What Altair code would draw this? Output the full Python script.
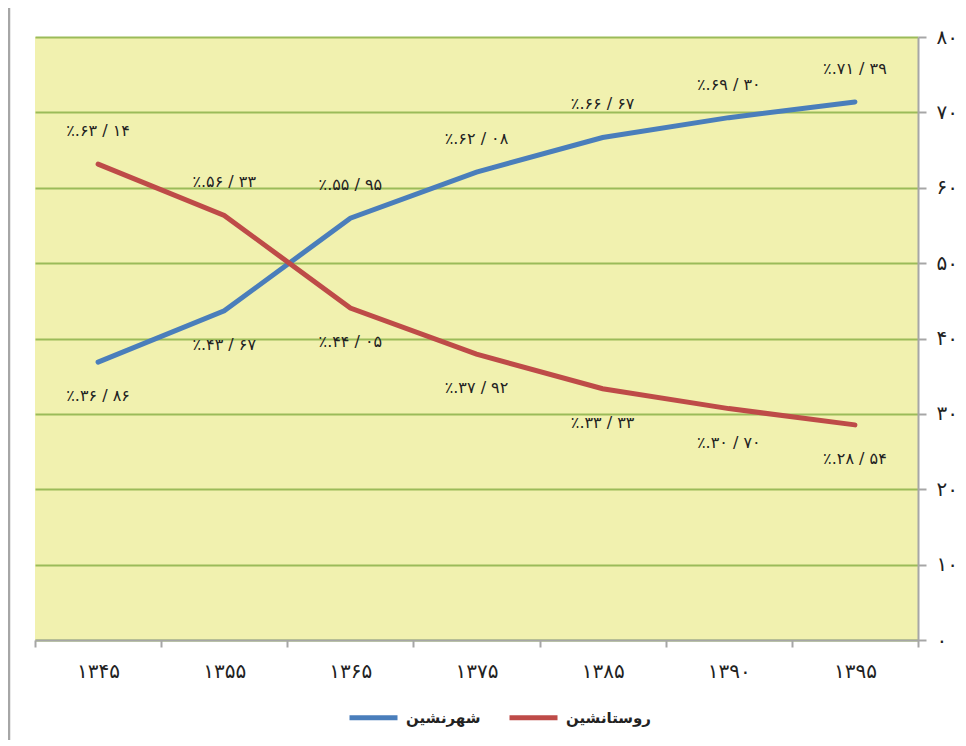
import altair as alt
import pandas as pd

# ---- data ----
years = ["۱۳۴۵", "۱۳۵۵", "۱۳۶۵", "۱۳۷۵", "۱۳۸۵", "۱۳۹۰", "۱۳۹۵"]
urban = [36.86, 43.67, 55.95, 62.08, 66.67, 69.30, 71.39]
rural = [63.14, 56.33, 44.05, 37.92, 33.33, 30.70, 28.54]
series_names = ["شهرنشین", "روستانشین"]
series_colors = ["#4A7EBB", "#BE4B48"]
y_ticks = [0, 10, 20, 30, 40, 50, 60, 70, 80]
y_tick_labels = ["۰", "۱۰", "۲۰", "۳۰", "۴۰", "۵۰", "۶۰", "۷۰", "۸۰"]

FA = str.maketrans("0123456789", "۰۱۲۳۴۵۶۷۸۹")


def pct_label(v):
    a, b = f"{v:.2f}".split(".")
    return "٪." + a.translate(FA) + " / " + b.translate(FA)


rows = []
for name, vals, other in [(series_names[0], urban, rural), (series_names[1], rural, urban)]:
    for yr, v, o in zip(years, vals, other):
        rows.append({"year": yr, "series": name, "value": v,
                     "label": pct_label(v), "above": v >= o})
df = pd.DataFrame(rows)

W, H = 883, 603
FONT = "DejaVu Sans"

x_enc = alt.X("year:N", sort=years, bandPosition=0.5,
              scale=alt.Scale(type="band", paddingInner=0, paddingOuter=0),
              axis=alt.Axis(title=None, labelAngle=0, tickBand="extent",
                            domainColor="#A6A6A6", domainWidth=2,
                            tickColor="#A6A6A6", tickWidth=2, tickSize=7,
                            labelPadding=14, labelFontSize=20, labelFont=FONT,
                            labelColor="#222222", grid=False))

y_enc = alt.Y("value:Q", scale=alt.Scale(domain=[0, 80], nice=False),
              axis=alt.Axis(title=None, orient="right", values=y_ticks,
                            labelExpr=f"{y_tick_labels}[round(datum.value/10)]",
                            domainColor="#A6A6A6", domainWidth=2,
                            tickColor="#A6A6A6", tickWidth=2, tickSize=8,
                            labelPadding=10, labelFontSize=20, labelFont=FONT,
                            labelColor="#222222",
                            grid=True, gridColor="#9BBB59", gridWidth=1.8))

color_enc = alt.Color("series:N",
                      scale=alt.Scale(domain=series_names, range=series_colors),
                      legend=alt.Legend(title=None, orient="none", direction="horizontal",
                                        legendX=312, legendY=654,
                                        symbolType="stroke", symbolStrokeWidth=5,
                                        symbolSize=2304, labelOffset=6,
                                        columnPadding=18,
                                        labelFontSize=15, labelFontWeight="bold",
                                        labelFont=FONT, labelColor="#222222"))

base = alt.Chart(df)

lines = base.mark_line(strokeWidth=5, strokeCap="round").encode(
    x=x_enc, y=y_enc, color=color_enc)

text_above = base.transform_filter("datum.above").mark_text(
    dy=-33, fontSize=16, font=FONT, color="#222222", baseline="middle").encode(
    x=x_enc, y=y_enc, text="label:N")

text_below = base.transform_filter("!datum.above").mark_text(
    dy=34, fontSize=16, font=FONT, color="#222222", baseline="middle").encode(
    x=x_enc, y=y_enc, text="label:N")

frame = alt.Chart(pd.DataFrame({"a": [0]})).mark_rule(
    color="#A6A6A6", strokeWidth=2.5).encode(
    x=alt.value(-26), y=alt.value(-40), y2=alt.value(H + 120))

chart = alt.layer(lines, text_above, text_below, frame).properties(
    width=W, height=H,
    padding={"left": 27, "top": 29, "right": 40, "bottom": 100},
    autosize=alt.AutoSizeParams(type="none"),
).configure_view(fill="#F1F1AF", stroke=None)

chart.save("out.html", embed_options={"renderer": "svg", "actions": False})
